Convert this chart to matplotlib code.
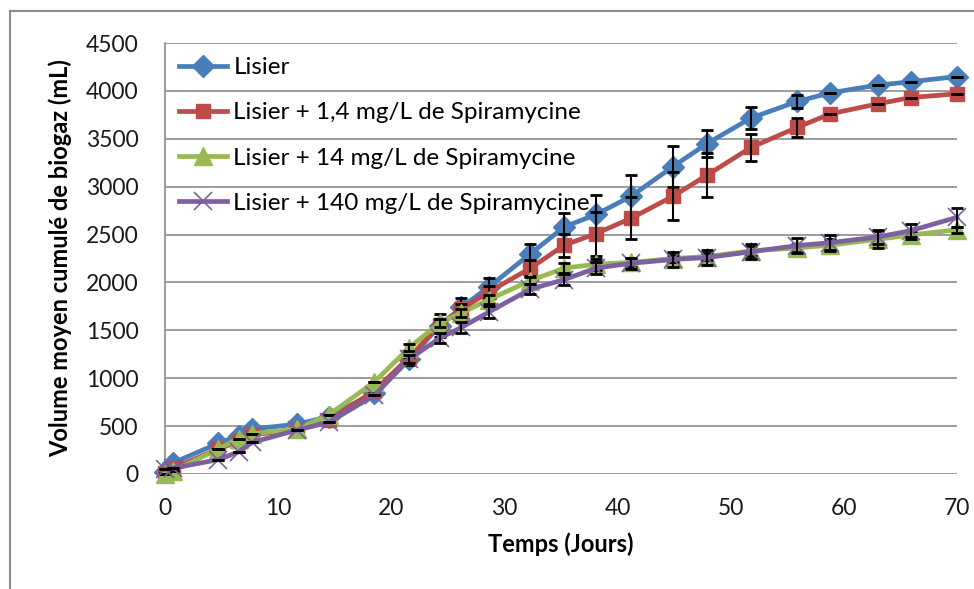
import matplotlib as mpl
import matplotlib.pyplot as plt
from matplotlib.patches import Rectangle

mpl.rcParams['font.family'] = ['Lato', 'DejaVu Sans']

# Sampling days
days = [0, 0.7, 4.7, 6.5, 7.7, 11.7, 14.5, 18.5, 21.6, 24.3, 26.2, 28.6,
        32.3, 35.3, 38.1, 41.2, 44.9, 47.9, 51.8, 55.9, 58.8, 63.0, 65.9, 70.0]

# Mean cumulated biogas volume (mL)
lisier = [20, 115, 320, 400, 470, 520, 600, 850, 1200, 1550, 1740, 1950,
          2300, 2580, 2710, 2900, 3210, 3450, 3717, 3890, 3980, 4060, 4095, 4150]
spira_1_4 = [10, 60, 260, 340, 410, 460, 560, 870, 1220, 1560, 1720, 1900,
             2150, 2390, 2510, 2670, 2900, 3120, 3410, 3620, 3760, 3865, 3930, 3970]
spira_14 = [0, 30, 260, 370, 420, 470, 620, 960, 1320, 1580, 1680, 1820,
            2020, 2150, 2190, 2210, 2250, 2270, 2330, 2360, 2390, 2450, 2495, 2550]
spira_140 = [50, 60, 150, 230, 330, 460, 540, 820, 1200, 1420, 1530, 1690,
             1930, 2030, 2150, 2200, 2240, 2260, 2320, 2385, 2415, 2475, 2540, 2680]

# Standard deviations
err_lisier = [0, 0, 0, 0, 0, 0, 0, 0, 60, 120, 100, 100,
              100, 150, 200, 220, 210, 140, 115, 70, 0, 0, 0, 0]
err_1_4 = [0, 0, 0, 0, 0, 0, 0, 0, 0, 60, 60, 60,
           80, 120, 230, 220, 250, 230, 145, 100, 0, 0, 0, 0]
err_14 = [0, 0, 0, 0, 0, 0, 0, 0, 40, 40, 40, 50,
          40, 50, 60, 50, 40, 40, 50, 40, 60, 90, 40, 30]
err_140 = [0, 0, 0, 0, 0, 0, 0, 0, 40, 50, 60, 60,
           50, 60, 60, 60, 80, 80, 80, 80, 80, 70, 70, 100]

labels = ['Lisier',
          'Lisier + 1,4 mg/L de Spiramycine',
          'Lisier + 14 mg/L de Spiramycine',
          'Lisier + 140 mg/L de Spiramycine']

fig = plt.figure(figsize=(9.74, 5.89), dpi=100)
W, H = 974.0, 589.0
ax = fig.add_axes([165 / W, 1 - 474 / H, (957 - 165) / W, (474 - 43) / H])

# thin grey frame around the chart area
fig.patches.append(Rectangle((9.5 / W, -0.1), 1.2, 1.1 - 11.5 / H,
                             transform=fig.transFigure, fill=False,
                             edgecolor='#8c8c8c', linewidth=1.5))

series = [
    (lisier, err_lisier, '#4a7ebb', 'D', 11.5, 1.0),
    (spira_1_4, err_1_4, '#be4b48', 's', 10.5, 1.0),
    (spira_14, err_14, '#98b954', '^', 13, 1.0),
    (spira_140, err_140, '#7d60a0', 'x', 13, 1.2),
]

for i, (vals, err, col, mk, ms, mew) in enumerate(series):
    z = 3 + 2 * i
    ax.plot(days, vals, color=col, linewidth=3.4, marker=mk, markersize=ms,
            markeredgewidth=mew, markeredgecolor=col, label=labels[i],
            zorder=z, clip_on=False)
    ax.errorbar(days, vals, yerr=err, fmt='none', ecolor='black',
                elinewidth=1.5, capsize=4.5, capthick=2, zorder=z + 1,
                clip_on=False)

ax.set_xlim(0, 70)
ax.set_ylim(0, 4500)
ax.set_xticks(range(0, 71, 10))
ax.set_yticks(range(0, 4501, 500))
ax.yaxis.grid(True, color='#8c8c8c', linewidth=1.2)
ax.set_axisbelow(True)
for s in ['top', 'right', 'bottom']:
    ax.spines[s].set_visible(False)
ax.spines['left'].set_color('#8c8c8c')
ax.spines['left'].set_linewidth(1.2)
ax.tick_params(axis='both', length=0, labelsize=16.5, colors='#1a1a1a')
ax.tick_params(axis='y', pad=19)
ax.tick_params(axis='x', pad=17)

ax.set_xlabel('Temps (Jours)', fontsize=17, fontweight='bold', labelpad=10)
ax.set_ylabel('Volume moyen cumulé de biogaz (mL)', fontsize=17,
              fontweight='bold', labelpad=10)

ax.legend(loc='upper left', bbox_to_anchor=(0.005, 0.99), frameon=False,
          fontsize=17.5, handlelength=2.0, handletextpad=0.25,
          labelspacing=1.0, borderaxespad=0.0)

plt.savefig('out.png', dpi=100)
